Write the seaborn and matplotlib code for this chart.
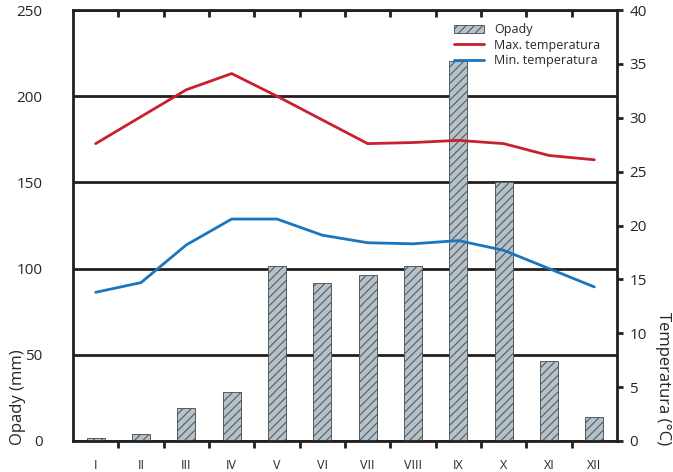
import numpy as np
import matplotlib
matplotlib.use("Agg")
import matplotlib.pyplot as plt
import seaborn as sns
from matplotlib.ticker import FixedLocator

months = ["I", "II", "III", "IV", "V", "VI", "VII", "VIII", "IX", "X", "XI", "XII"]
opady = [2, 4, 19, 28.5, 101.5, 91.5, 96.5, 101.5, 220.5, 150, 46.5, 14]
t_max = [27.6, 30.1, 32.6, 34.1, 32.0, 29.8, 27.6, 27.7, 27.9, 27.6, 26.5, 26.1]
t_min = [13.8, 14.7, 18.2, 20.6, 20.6, 19.1, 18.4, 18.3, 18.6, 17.7, 16.0, 14.3]

sns.set_style("white")
plt.rcParams["font.family"] = ["Open Sans", "DejaVu Sans"]
plt.rcParams["hatch.linewidth"] = 0.8

fig = plt.figure(figsize=(6.73, 4.72), dpi=100)
ax = fig.add_axes([73 / 673, 1 - 441 / 472, 544 / 673, 431 / 472])

# bars (precipitation)
sns.barplot(x=months, y=opady, color="#b4c3cb", width=0.4, saturation=1,
            edgecolor="#58595b", linewidth=0.7, ax=ax, zorder=2, label="Opady")
for p in ax.patches:
    p.set_hatch("////")

ax.set_xlim(-0.5, 11.5)
ax.set_ylim(0, 250)
ax.set_yticks([0, 50, 100, 150, 200, 250])
ax.yaxis.grid(True, color="#231f20", linewidth=2)
ax.set_axisbelow(True)
for s in ax.spines.values():
    s.set_color("#231f20")
    s.set_linewidth(2)
    s.set_zorder(5)
ax.tick_params(axis="y", length=0, pad=22, labelsize=11)
ax.tick_params(axis="x", which="major", length=0, pad=13, labelsize=9)
ax.xaxis.set_minor_locator(FixedLocator(np.arange(0.5, 11, 1)))
ax.tick_params(axis="x", which="minor", direction="out", length=5, width=2,
               color="#231f20", bottom=True)
ax.set_ylabel("")
ax.set_xlabel("")

top = ax.secondary_xaxis("top")
top.set_xticks(np.arange(0.5, 11, 1))
top.tick_params(direction="in", length=5, width=2, color="#231f20", labeltop=False)
top.spines["top"].set_visible(False)

# temperature lines
ax2 = ax.twinx()
pos = np.arange(len(months))
sns.lineplot(x=pos, y=t_max, color="#c8202f", linewidth=2, ax=ax2,
             label="Max. temperatura", zorder=4)
sns.lineplot(x=pos, y=t_min, color="#1b75bc", linewidth=2, ax=ax2,
             label="Min. temperatura", zorder=4)
ax2.set_ylim(0, 40)
ax2.set_yticks(range(0, 41, 5))
ax2.tick_params(axis="y", direction="out", length=4, width=2, color="#231f20",
                pad=5, labelsize=11)
for s in ax2.spines.values():
    s.set_visible(False)
ax2.set_ylabel("")

fig.text(18 / 673, 1 - 445 / 472, "Opady (mm)", fontsize=12, rotation=90,
         ha="center", va="bottom")
fig.text(663 / 673, 1 - 445 / 472, "Temperatura (°C)", fontsize=12,
         rotation=270, ha="center", va="bottom")

h1, l1 = ax.get_legend_handles_labels()
h2, l2 = ax2.get_legend_handles_labels()
if ax.get_legend():
    ax.get_legend().remove()
ax2.legend(h1 + h2, l1 + l2, loc="upper right", bbox_to_anchor=(0.985, 0.99),
           frameon=False, fontsize=9, handlelength=2.4, handleheight=0.6,
           labelspacing=0.2, borderaxespad=0.3)

fig.savefig("out.png", dpi=100)
